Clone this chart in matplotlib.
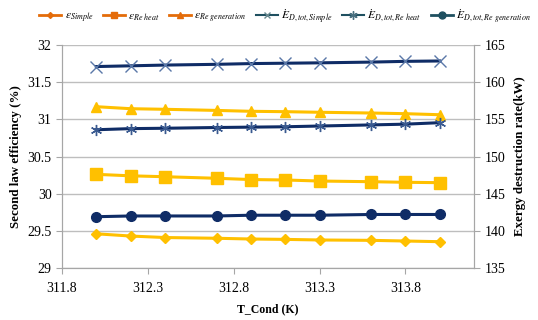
import matplotlib.pyplot as plt
from matplotlib.lines import Line2D

plt.rcParams['font.family'] = 'Liberation Serif'
plt.rcParams['mathtext.fontset'] = 'stix'

# condenser temperature (K)
t_cond = [312.0, 312.2, 312.4, 312.7, 312.9, 313.1, 313.3, 313.6, 313.8, 314.0]

# second law efficiency (%)
eff_simple = [29.46, 29.43, 29.41, 29.40, 29.39, 29.385, 29.377, 29.372, 29.363, 29.354]
eff_reheat = [30.26, 30.24, 30.228, 30.207, 30.19, 30.184, 30.17, 30.161, 30.153, 30.148]
eff_regen = [31.17, 31.143, 31.135, 31.12, 31.108, 31.103, 31.095, 31.085, 31.076, 31.062]

# total exergy destruction rate (kW)
exd_simple = [162.1, 162.2, 162.3, 162.4, 162.5, 162.55, 162.6, 162.7, 162.8, 162.85]
exd_reheat = [153.6, 153.75, 153.8, 153.9, 153.95, 154.0, 154.1, 154.25, 154.35, 154.55]
exd_regen = [141.9, 142.0, 142.0, 142.0, 142.1, 142.1, 142.1, 142.2, 142.2, 142.2]

gold = '#FFC000'
navy = '#0F2C66'
orange = '#E46C0A'
teal = '#1F5060'

fig = plt.figure(figsize=(5.38, 3.2), dpi=100)
ax = fig.add_axes([62 / 538, 52 / 320, 412 / 538, 223 / 320])
ax2 = ax.twinx()

ax.plot(t_cond, eff_simple, color=gold, lw=2.2, marker='D', ms=5)
ax.plot(t_cond, eff_reheat, color=gold, lw=2.2, marker='s', ms=8)
ax.plot(t_cond, eff_regen, color=gold, lw=2.2, marker='^', ms=7)

ax2.plot(t_cond, exd_simple, color=navy, lw=2.2, marker='x', ms=8,
         mec='#5A78A8', mew=1)
ax2.plot(t_cond, exd_reheat, color=navy, lw=2.2, marker=(6, 2, 0), ms=8,
         mec='#3A5A90', mew=1)
ax2.plot(t_cond, exd_regen, color=navy, lw=2.2, marker='o', ms=7)

ax.set_xlim(311.8, 314.2)
ax.set_xticks([311.8, 312.3, 312.8, 313.3, 313.8])
ax.set_xticklabels(['311.8', '312.3', '312.8', '313.3', '313.8'])
ax.set_ylim(29, 32)
ax.set_yticks([29, 29.5, 30, 30.5, 31, 31.5, 32])
ax.set_yticklabels(['29', '29.5', '30', '30.5', '31', '31.5', '32'])
ax2.set_ylim(135, 165)
ax2.set_yticks([135, 140, 145, 150, 155, 160, 165])

ax.yaxis.grid(True, color='#BEBEBE', lw=1)
ax.set_axisbelow(True)
for a in (ax, ax2):
    for s in a.spines.values():
        s.set_color('#A6A6A6')
    a.spines['top'].set_visible(False)
    a.tick_params(direction='out', colors='#A6A6A6', labelcolor='black',
                  labelsize=10, length=4)
ax.tick_params(axis='x', pad=6)

ax.set_xlabel('T_Cond (K)', fontsize=8.5, fontweight='bold', labelpad=6)
ax.set_ylabel('Second law efficiency (%)', fontsize=9.3, fontweight='bold')
ax2.set_ylabel('Exergy destruction rate(kW)', fontsize=9.3, fontweight='bold',
               labelpad=6)

handles = [
    Line2D([], [], color=orange, lw=2, marker='D', ms=3),
    Line2D([], [], color=orange, lw=2, marker='s', ms=5),
    Line2D([], [], color=orange, lw=2, marker='^', ms=5),
    Line2D([], [], color=teal, lw=1.5, marker='x', ms=5, mec='#6A8A90'),
    Line2D([], [], color=teal, lw=1.5, marker=(6, 2, 0), ms=6, mec='#4A7080'),
    Line2D([], [], color=teal, lw=2, marker='o', ms=5),
]
labels = [
    r'$\varepsilon_{Simple}$',
    r'$\varepsilon_{Re\ heat}$',
    r'$\varepsilon_{Re\ generation}$',
    r'$\dot{E}_{D,tot,Simple}$',
    r'$\dot{E}_{D,tot,Re\ heat}$',
    r'$\dot{E}_{D,tot,Re\ generation}$',
]
fig.legend(handles, labels, loc='upper right', bbox_to_anchor=(1.0, 1.0),
           ncol=6, frameon=False, fontsize=8.3, handlelength=1.9,
           handletextpad=0.3, columnspacing=0.8, borderaxespad=0.2)

fig.savefig('out.png', dpi=100)
